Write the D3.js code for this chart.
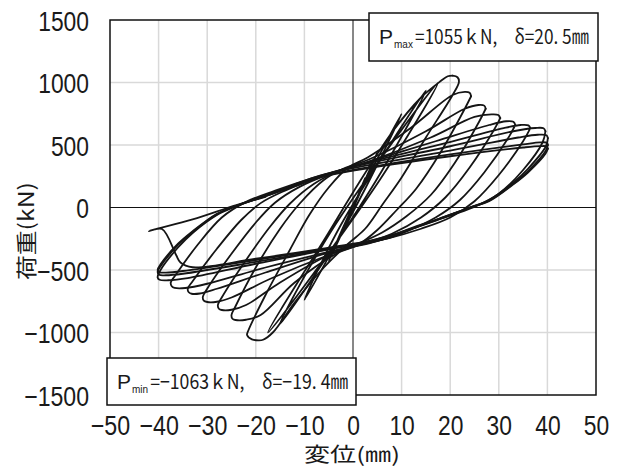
<!DOCTYPE html>
<html><head><meta charset="utf-8">
<script src="https://cdn.jsdelivr.net/npm/d3@7"></script>
<style>html,body{margin:0;padding:0;background:#fff;}</style>
</head><body>
<svg id="chart" width="619" height="468"></svg>
<script>
// ---- data ----
const xTicks = [-50,-40,-30,-20,-10,0,10,20,30,40,50];
const yTicks = [-1500,-1000,-500,0,500,1000,1500];
const xTitle = "変位(㎜)";
const yTitle = "荷重(kN)";
const maxLabel = {sub:"max", text:"=1055ｋN,　δ=20. 5㎜"};
const minLabel = {sub:"min", text:"=−1063ｋN,　δ=−19. 4㎜"};

const elastic = [[0,0],[2.5,235],[0.3,30],[-2.5,-225],[-0.3,-25],[5,440],[0.8,60],[-5,-430],[-0.8,-55],
  [10,750],[2.5,150],[-10,-740],[-2.5,-140],[15,935],[4.5,200],[-15,-930],[-4.5,-190],
  [17.5,1000],[5.5,220],[-17.5,-1000],[-5,-200],[0,120],[8,600],[14,880],[18,1010],[19.5,1050],[20.5,1055]];
const cycle01 = [[20.5,1055],[21.5,1042],[21.8,1005],[20.5,900],[15,560],[10,240],[6,20],[2.5,-170],[-1,-290],[-6,-480],[-12,-760],[-16.5,-1000],[-18.5,-1058],[-19.4,-1063],[-20.8,-1055],[-21.8,-1020],[-21.6,-990],
  [-18,-700],[-13,-340],[-9,-60],[-5,160],[-1,320],[3,400],[12,640],[20.5,900],[23,925],[24,918],[24.3,890]];
const cycle02 = [[24.3,890],[23,790],[18,440],[13,150],[9,-20],[5,-180],[1,-300],[-3,-360],[-12,-600],[-19,-860],[-22,-898],[-24.2,-900],[-24.8,-890],[-25,-860],
  [-24.3,-800],[-20,-480],[-15,-170],[-11,30],[-6,220],[-2,310],[3,380],[15,610],[23,790],[25.8,820],[27,815],[27.3,790]];
const cycle03 = [[27.3,790],[26,690],[21,360],[16,100],[11,-70],[6,-200],[1,-290],[-5,-380],[-15,-600],[-22,-780],[-25,-818],[-27,-820],[-27.6,-810],[-27.8,-780],
  [-27,-720],[-22,-420],[-17,-150],[-13,30],[-8,190],[-3,290],[2,350],[16,560],[25,725],[28.5,745],[29.9,740],[30.3,715]];
const cycle04 = [[30.3,715],[29,620],[24,320],[19,80],[14,-80],[8,-210],[2,-290],[-5,-380],[-17,-570],[-25,-720],[-28,-754],[-30,-756],[-30.7,-745],[-30.9,-715],
  [-30,-650],[-25,-370],[-20,-120],[-16,40],[-11,165],[-5,265],[1,340],[17,530],[28,660],[31.5,690],[33,686],[33.4,660]];
const cycle05 = [[33.4,660],[32,560],[27,280],[22,60],[17,-80],[11,-190],[4,-280],[-4,-350],[-18,-520],[-28,-650],[-31.5,-688],[-33.2,-690],[-33.8,-678],[-34,-650],
  [-33,-590],[-28,-330],[-23,-100],[-19,35],[-14,135],[-7,245],[0,330],[18,505],[31,635],[34.5,660],[36.1,657],[36.5,635]];
const cycle06 = [[36.5,635],[35,530],[30,260],[25,50],[20,-80],[14,-170],[7,-250],[0,-310],[-18,-480],[-30,-610],[-34.5,-644],[-36.7,-643],[-37.3,-630],[-37.5,-600],
  [-36.5,-540],[-32,-300],[-27,-80],[-22,45],[-16,135],[-8,240],[0,325],[20,490],[33,610],[37.5,636],[39.2,634],[39.6,610]];
const cycle07 = [[39.6,610],[39,520],[35,300],[30,110],[24.7,0],[18,-90],[12,-170],[6,-240],[0,-295],[-20,-450],[-34,-565],[-38,-582],[-39.8,-578],[-40.2,-560],
  [-39.6,-500],[-36,-320],[-33,-204],[-28,-60],[-24.7,0],[-17.7,100],[-12.3,180],[-6.8,255],[0,315],[20,455],[34,560],[38,582],[39.8,578],[40.1,555]];
const cycle08 = [[40.1,555],[39.7,490],[36,310],[33,200],[28,60],[24,0],[17.7,-95],[12,-175],[6.8,-250],[0,-300],[-20,-435],[-35,-530],[-38.5,-542],[-39.9,-538],[-40.2,-515],
  [-39.6,-470],[-36,-300],[-33,-195],[-28,-55],[-24.5,5],[-17.7,95],[-12,175],[-6.8,245],[0,300],[20,425],[35,505],[38.5,521],[39.9,518],[40.1,500]];
const cycle09 = [[40.1,500],[39.6,450],[36,290],[33,190],[28,55],[24,0],[17.7,-90],[12,-170],[6.8,-245],[0,-295],[-20,-420],[-35,-508],[-38.5,-521],[-39.9,-518],[-40.2,-500],
  [-39.6,-455],[-36,-290],[-33,-190],[-28,-50],[-24.5,8],[-17.7,95],[-12,170],[-6.8,240],[0,295],[20,410],[35,480],[38.5,491],[39.9,488],[40.1,470]];
const cycle10 = [[40.1,470],[39.6,430],[36,280],[33,185],[28,50],[24,-2],[17.7,-90],[12,-165],[6.8,-240],[0,-290],[-20,-410],[-33,-478],[-35.5,-440],[-36.4,-380],[-39.3,-172],[-42,-188],[-33,-95],[-24,20],[-18,85]];
const loops = [elastic, cycle01, cycle02, cycle03, cycle04, cycle05, cycle06, cycle07, cycle08, cycle09, cycle10];

// ---- layout ----
const svg = d3.select("#chart");
const L = 110, R = 596, T = 20, B = 395;
const x = d3.scaleLinear().domain([-50,50]).range([L,R]);
const y = d3.scaleLinear().domain([-1500,1500]).range([B,T]);
const numFont = "'Liberation Sans','DejaVu Sans',sans-serif";
const jpFont = "'Noto Sans CJK JP','Noto Sans',sans-serif";
const ink = "#1a1a1a";
const fmt = d => d < 0 ? "−" + Math.abs(d) : String(d);
const labelLen = d => String(Math.abs(d)).length * 12.7 + (d < 0 ? 14 : 0);

// grid
const g = svg.append("g");
g.selectAll("line.gx").data(xTicks.filter(d => d !== 0 && Math.abs(d) !== 50)).enter().append("line")
  .attr("x1", d => x(d)).attr("x2", d => x(d)).attr("y1", T).attr("y2", B)
  .attr("stroke", "#d9d9d9").attr("stroke-width", 1.5);
g.selectAll("line.gy").data(yTicks.filter(d => d !== 0 && Math.abs(d) !== 1500)).enter().append("line")
  .attr("y1", d => y(d)).attr("y2", d => y(d)).attr("x1", L).attr("x2", R)
  .attr("stroke", "#d9d9d9").attr("stroke-width", 1.5);
g.append("line").attr("x1", x(0)).attr("x2", x(0)).attr("y1", T).attr("y2", B).attr("stroke", "#111").attr("stroke-width", 1);
g.append("line").attr("x1", L).attr("x2", R).attr("y1", y(0)).attr("y2", y(0)).attr("stroke", "#111").attr("stroke-width", 1);

// loops
const line = d3.line().x(d => x(d[0])).y(d => y(d[1])).curve(d3.curveCatmullRom.alpha(0.5));
svg.append("g").selectAll("path").data(loops).enter().append("path")
  .attr("d", line).attr("fill", "none").attr("stroke", "#151515")
  .attr("stroke-width", 1.8).attr("stroke-linejoin", "round").attr("stroke-linecap", "round");

// frame
svg.append("rect").attr("x", L).attr("y", T).attr("width", R - L).attr("height", B - T)
  .attr("fill", "none").attr("stroke", "#111").attr("stroke-width", 1.5);

// axes (labels only)
const xa = svg.append("g").attr("transform", `translate(0,${B})`)
  .call(d3.axisBottom(x).tickValues(xTicks).tickSize(0).tickFormat(fmt));
xa.select(".domain").remove();
xa.selectAll("text").attr("dy", null).attr("y", 40).attr("font-size", 28).attr("font-family", numFont).attr("fill", ink)
  .attr("textLength", d => labelLen(d)).attr("lengthAdjust", "spacingAndGlyphs");

const ya = svg.append("g").attr("transform", `translate(${L},0)`)
  .call(d3.axisLeft(y).tickValues(yTicks).tickSize(0).tickFormat(fmt));
ya.select(".domain").remove();
ya.selectAll("text").attr("x", -21).attr("dy", "0.36em").attr("font-size", 28).attr("font-family", numFont).attr("fill", ink)
  .attr("textLength", d => labelLen(d)).attr("lengthAdjust", "spacingAndGlyphs");

// titles
svg.append("text").attr("x", 352).attr("y", 462).attr("text-anchor", "middle")
  .attr("font-family", jpFont).attr("font-size", 20).attr("fill", ink)
  .attr("textLength", 96).attr("lengthAdjust", "spacingAndGlyphs").text(xTitle);
svg.append("text").attr("transform", "translate(34,231) rotate(-90)").attr("text-anchor", "middle")
  .attr("font-family", jpFont).attr("font-size", 21).attr("fill", ink)
  .attr("textLength", 98).attr("lengthAdjust", "spacingAndGlyphs").text(yTitle);

// annotation boxes
function labelBox(bx, by, bw, bh, lab, tLen) {
  svg.append("rect").attr("x", bx).attr("y", by).attr("width", bw).attr("height", bh)
    .attr("fill", "#fff").attr("stroke", "#111").attr("stroke-width", 1.5);
  const base = by + 31;
  const t = svg.append("text").attr("x", bx + 10).attr("y", base).attr("font-family", numFont)
    .attr("font-size", 21).attr("fill", ink);
  t.append("tspan").text("P");
  t.append("tspan").attr("font-size", 10).attr("dx", 1).attr("dy", 4).text(lab.sub);
  t.append("tspan").attr("dx", 2).attr("dy", -4).attr("font-family", jpFont).attr("font-size", 20)
    .attr("textLength", tLen).attr("lengthAdjust", "spacingAndGlyphs").text(lab.text);
}
labelBox(369, 13, 229, 48, maxLabel, 174);
labelBox(107, 358, 249, 47, minLabel, 198);
</script>
</body></html>
